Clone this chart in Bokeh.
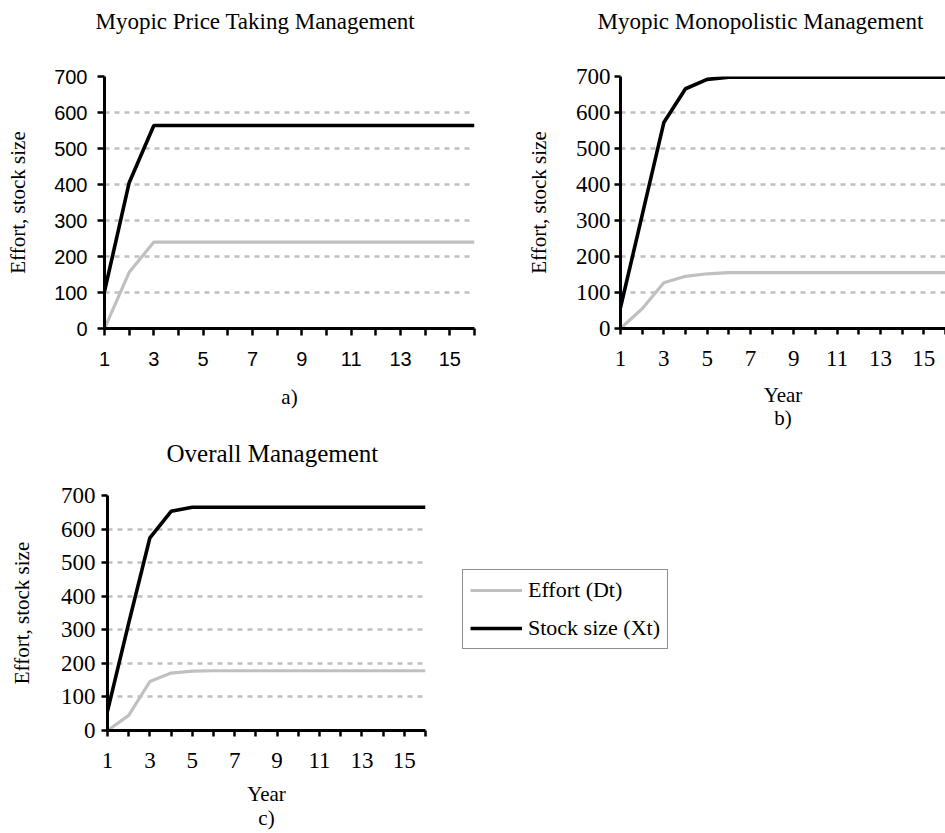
from bokeh.plotting import figure
from bokeh.models import Range1d, FixedTicker, Legend, LegendItem, Title, LinearAxis
from bokeh.layouts import column, row
from bokeh.embed import file_html
from bokeh.resources import INLINE

# ---------------- data ----------------
years = [1, 2, 3, 4, 5, 6, 7, 8, 9, 10, 11, 12, 13, 14, 15, 16]
x_tick_labels = [1, 3, 5, 7, 9, 11, 13, 15]
x_minor_ticks = [2, 4, 6, 8, 10, 12, 14, 16]
y_tick_labels = [0, 100, 200, 300, 400, 500, 600, 700]

a_effort = [0, 156, 240, 240, 240, 240, 240, 240, 240, 240, 240, 240, 240, 240, 240, 240]
a_stock = [103, 405, 564, 564, 564, 564, 564, 564, 564, 564, 564, 564, 564, 564, 564, 564]

b_effort = [0, 55, 127, 145, 152, 155, 155, 155, 155, 155, 155, 155, 155, 155, 155, 155]
b_stock = [58, 315, 572, 666, 692, 698, 698, 698, 698, 698, 698, 698, 698, 698, 698, 698]

c_effort = [0, 45, 146, 171, 177, 178, 178, 178, 178, 178, 178, 178, 178, 178, 178, 178]
c_stock = [58, 320, 574, 653, 665, 665, 665, 665, 665, 665, 665, 665, 665, 665, 665, 665]

titles = ["Myopic Price Taking Management", "Myopic Monopolistic Management", "Overall Management"]
panel_tags = ["a)", "b)", "c)"]
y_label = "Effort, stock size"
x_label = "Year"
legend_labels = ["Effort (Dt)", "Stock size (Xt)"]

SERIF = "Liberation Serif"
SANS = "Liberation Sans"
GRAY = "#c0c0c0"
BLACK = "#000000"


def style_text_axis(ax, size):
    ax.axis_label_text_font = SERIF
    ax.axis_label_text_font_size = size
    ax.axis_label_text_font_style = "normal"
    ax.axis_label_text_color = BLACK


def make_panel(width, height, bl, br, bt, bb, effort, stock, tick_font, tick_size,
               tick_out, x_std, y_std, ylab_std, xlabel, xlab_std, tag, tag_std,
               grid_ticks, title, title_size, title_offset, spacer_size):
    p = figure(width=width, height=height, output_backend="svg", toolbar_location=None,
               x_range=Range1d(1, 16), y_range=Range1d(0, 700),
               min_border_left=bl, min_border_right=br, min_border_top=bt,
               min_border_bottom=bb)
    p.outline_line_color = None
    p.background_fill_color = "white"
    p.border_fill_color = "white"

    p.xgrid.visible = False
    p.ygrid.ticker = FixedTicker(ticks=grid_ticks)
    p.ygrid.grid_line_color = GRAY
    p.ygrid.grid_line_dash = "5 5"
    p.ygrid.grid_line_width = 2.5

    p.line(years, effort, line_color=GRAY, line_width=3.2)
    p.line(years, stock, line_color=BLACK, line_width=3.6)

    for ax in (p.xaxis[0], p.yaxis[0]):
        ax.axis_line_width = 3
        ax.axis_line_color = BLACK
        ax.major_tick_line_width = 2.5
        ax.major_tick_line_color = BLACK
        ax.major_tick_in = 0
        ax.major_tick_out = tick_out
        ax.major_label_text_font = tick_font
        ax.major_label_text_font_size = tick_size
        ax.major_label_text_color = BLACK
        style_text_axis(ax, "21px")

    xa = p.xaxis[0]
    xa.ticker = FixedTicker(ticks=x_tick_labels, minor_ticks=x_minor_ticks)
    xa.minor_tick_in = 0
    xa.minor_tick_out = tick_out
    xa.minor_tick_line_width = 2.5
    xa.minor_tick_line_color = BLACK
    xa.major_label_standoff = x_std
    if xlabel:
        xa.axis_label = xlabel
        xa.axis_label_standoff = xlab_std
        extra = LinearAxis(ticker=FixedTicker(ticks=[]), axis_label=tag,
                           axis_line_color=None, major_tick_line_color=None,
                           minor_tick_line_color=None, major_tick_out=0, minor_tick_out=0,
                           major_tick_in=0, minor_tick_in=0,
                           major_label_standoff=0, axis_label_standoff=tag_std)
        style_text_axis(extra, "21px")
        p.add_layout(extra, "below")
    else:
        xa.axis_label = tag
        xa.axis_label_standoff = tag_std

    ya = p.yaxis[0]
    ya.ticker = FixedTicker(ticks=y_tick_labels)
    ya.minor_tick_line_color = None
    ya.major_label_standoff = y_std
    ya.axis_label = y_label
    ya.axis_label_standoff = ylab_std

    p.add_layout(Title(text=" ", text_font_size=spacer_size), "above")
    p.add_layout(Title(text=title, align="left", offset=title_offset, text_font=SERIF,
                       text_font_size=title_size, text_font_style="normal",
                       text_color=BLACK), "above")
    return p


TOP_H = 432
BOT_H = 833 - TOP_H

fa = make_panel(490, TOP_H, 104, 16, 76, TOP_H - 76 - 252, a_effort, a_stock,
                SANS, "20px", 7, 16, 10, 21, None, 0, panel_tags[0], 16,
                [100, 200, 300, 400, 500, 600, 700], titles[0], "23px", -9, "23px")

fb = make_panel(455, TOP_H, 130, 0, 76, TOP_H - 76 - 253, b_effort, b_stock,
                SERIF, "23px", 6, 16, 4, 22, x_label, 14, panel_tags[1], -4,
                [100, 200, 300, 400, 500, 600, 700], titles[1], "23px", -23, "23px")

fc = make_panel(448, BOT_H, 107, 23, 63, BOT_H - 63 - 235, c_effort, c_stock,
                SERIF, "23px", 6, 16, 6, 24, x_label, 11, panel_tags[2], -3,
                [100, 200, 300, 400, 500, 600], titles[2], "25px", 59, "11px")

# legend panel (frame aligned with panel c)
fl = figure(width=945 - 448, height=BOT_H, output_backend="svg", toolbar_location=None,
            x_range=Range1d(-20, -19), y_range=Range1d(0, 700),
            min_border_left=0, min_border_right=0,
            min_border_top=63, min_border_bottom=BOT_H - 63 - 235)
fl.outline_line_color = None
fl.axis.visible = False
fl.grid.visible = False
r_e = fl.line(years, c_effort, line_color=GRAY, line_width=3.2)
r_s = fl.line(years, c_stock, line_color=BLACK, line_width=3.6)
leg = Legend(items=[LegendItem(label=legend_labels[0], renderers=[r_e]),
                    LegendItem(label=legend_labels[1], renderers=[r_s])],
             location=(14, 81), orientation="vertical",
             label_text_font=SERIF, label_text_font_size="22px", label_text_color=BLACK,
             glyph_width=52, glyph_height=22, label_standoff=6, label_height=22,
             spacing=12, padding=7, margin=0,
             border_line_color="#222222", border_line_width=1.5,
             background_fill_color="white", background_fill_alpha=1.0)
fl.add_layout(leg)

layout = column(row(fa, fb), row(fc, fl))
open("out.html", "w").write(file_html(layout, INLINE))
